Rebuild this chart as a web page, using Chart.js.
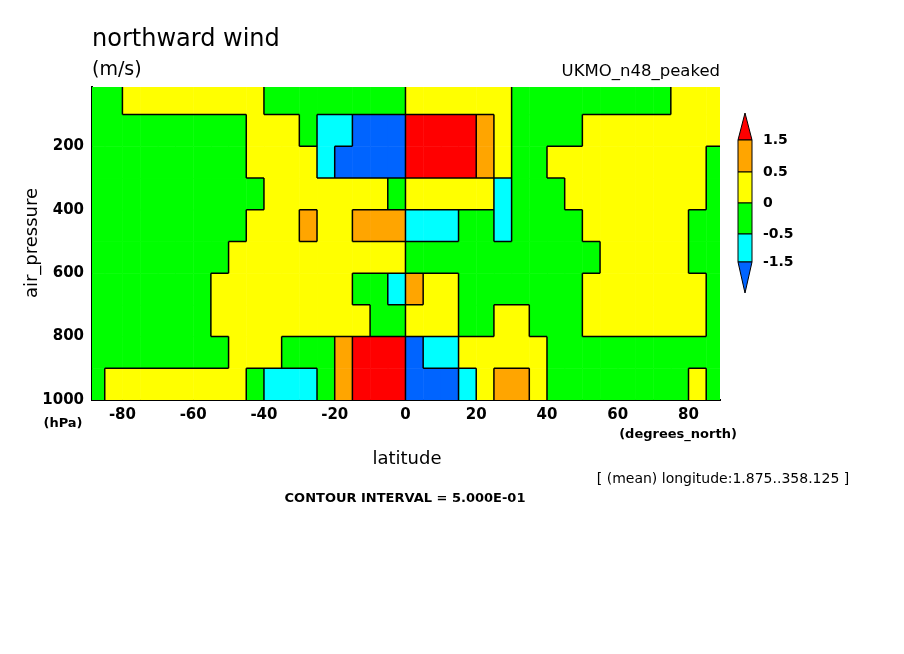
<!DOCTYPE html>
<html>
<head>
<meta charset="utf-8">
<script src="https://cdn.jsdelivr.net/npm/chart.js@4.4.0/dist/chart.umd.min.js"></script>
<style>
  body { margin: 0; background: #fff; }
  #wrap { width: 904px; height: 654px; }
</style>
</head>
<body>
<div id="wrap"><canvas id="c" width="904" height="654"></canvas></div>
<script>
// grid cell centres
const latitudes = [];
for (let l = -87.5; l <= 87.5; l += 5) latitudes.push(l);
const pressures = [50, 150, 250, 350, 450, 550, 650, 750, 850, 950];

// northward wind (m/s), read by eye, one row per pressure level, south -> north
const B = -2, c = -1, g = -0.25, y = 0.25, o = 1, r = 2;
const wind50  = [g,g,y,y,y,y,y,y,y,y,g,g,g,g,g,g,g,g, y,y,y,y,y,y,g,g,g,g,g,g,g,g,g,y,y,y];
const wind150 = [g,g,g,g,g,g,g,g,g,y,y,y,g,c,c,B,B,B, r,r,r,r,o,y,g,g,g,g,y,y,y,y,y,y,y,y];
const wind250 = [g,g,g,g,g,g,g,g,g,y,y,y,y,c,B,B,B,B, r,r,r,r,o,y,g,g,y,y,y,y,y,y,y,y,y,g];
const wind350 = [g,g,g,g,g,g,g,g,g,g,y,y,y,y,y,y,y,g, y,y,y,y,y,c,g,g,g,y,y,y,y,y,y,y,y,g];
const wind450 = [g,g,g,g,g,g,g,g,g,y,y,y,o,y,y,o,o,o, c,c,c,g,g,c,g,g,g,g,y,y,y,y,y,y,g,g];
const wind550 = [g,g,g,g,g,g,g,g,y,y,y,y,y,y,y,y,y,y, g,g,g,g,g,g,g,g,g,g,g,y,y,y,y,y,g,g];
const wind650 = [g,g,g,g,g,g,g,y,y,y,y,y,y,y,y,g,g,c, o,y,y,g,g,g,g,g,g,g,y,y,y,y,y,y,y,g];
const wind750 = [g,g,g,g,g,g,g,y,y,y,y,y,y,y,y,y,g,g, y,y,y,g,g,y,y,g,g,g,y,y,y,y,y,y,y,g];
const wind850 = [g,g,g,g,g,g,g,g,y,y,y,g,g,g,o,r,r,r, B,c,c,y,y,y,y,y,g,g,g,g,g,g,g,g,g,g];
const wind950 = [g,y,y,y,y,y,y,y,y,g,c,c,c,g,o,r,r,r, B,B,B,c,y,o,o,y,g,g,g,g,g,g,g,g,y,g];
const windRows = [wind50, wind150, wind250, wind350, wind450, wind550, wind650, wind750, wind850, wind950];

const levelEdges = [-1.5, -0.5, 0, 0.5, 1.5];
const levelColors = ["#0064ff", "#00ffff", "#00ff00", "#ffff00", "#ffa500", "#ff0000"];
const barLabels = ["1.5", "0.5", "0", "-0.5", "-1.5"];
const xTicks = [-80, -60, -40, -20, 0, 20, 40, 60, 80];
const yTicks = [200, 400, 600, 800, 1000];

function levelOf(v) {
  let i = 0;
  while (i < levelEdges.length && v > levelEdges[i]) i++;
  return i;
}

const cells = [];
windRows.forEach((row, j) => row.forEach((v, i) => cells.push({ x: latitudes[i], y: pressures[j], v: v, i: i, j: j })));

const cellPlugin = {
  id: "cells",
  beforeDatasetsDraw(chart) {
    const ctx = chart.ctx, xs = chart.scales.x, ys = chart.scales.y, a = chart.chartArea;
    ctx.save();
    ctx.beginPath();
    ctx.rect(a.left, a.top, a.right - a.left, a.bottom - a.top);
    ctx.clip();
    cells.forEach(p => {
      const x0 = xs.getPixelForValue(p.x - 2.5), x1 = xs.getPixelForValue(p.x + 2.5);
      const y0 = ys.getPixelForValue(p.y - 50), y1 = ys.getPixelForValue(p.y + 50);
      ctx.fillStyle = levelColors[levelOf(p.v)];
      ctx.fillRect(x0, y0, x1 - x0 + 0.5, y1 - y0 + 0.5);
    });
    // contour-like black edges where the level changes
    ctx.strokeStyle = "#000";
    ctx.lineWidth = 1.5;
    ctx.beginPath();
    cells.forEach(p => {
      const lv = levelOf(p.v);
      const x1 = xs.getPixelForValue(p.x + 2.5), x0 = xs.getPixelForValue(p.x - 2.5);
      const y1 = ys.getPixelForValue(p.y + 50), y0 = ys.getPixelForValue(p.y - 50);
      const right = windRows[p.j][p.i + 1];
      if (right !== undefined && levelOf(right) !== lv) { ctx.moveTo(x1, y0); ctx.lineTo(x1, y1); }
      const below = windRows[p.j + 1] ? windRows[p.j + 1][p.i] : undefined;
      if (below !== undefined && levelOf(below) !== lv) { ctx.moveTo(x0, y1); ctx.lineTo(x1, y1); }
    });
    ctx.stroke();
    ctx.restore();
  },
  afterDraw(chart) {
    const ctx = chart.ctx;
    ctx.save();
    ctx.fillStyle = "#000";
    ctx.textBaseline = "alphabetic";
    ctx.font = "24px 'DejaVu Sans'";
    ctx.textAlign = "left";
    ctx.fillText("northward wind", 92, 46);
    ctx.font = "19px 'DejaVu Sans'";
    ctx.fillText("(m/s)", 92, 75);
    ctx.font = "16.5px 'DejaVu Sans'";
    ctx.textAlign = "right";
    ctx.fillText("UKMO_n48_peaked", 720, 76);
    ctx.textAlign = "center";
    ctx.font = "18px 'DejaVu Sans'";
    ctx.fillText("latitude", 407, 464);
    ctx.save();
    ctx.translate(37, 243);
    ctx.rotate(-Math.PI / 2);
    ctx.fillText("air_pressure", 0, 0);
    ctx.restore();
    ctx.font = "bold 13px 'DejaVu Sans'";
    ctx.fillText("(hPa)", 63, 427);
    ctx.fillText("(degrees_north)", 678, 438);
    ctx.font = "14px 'DejaVu Sans'";
    ctx.fillText("[ (mean) longitude:1.875..358.125 ]", 723, 483);
    ctx.font = "bold 13px 'DejaVu Sans'";
    ctx.fillText("CONTOUR INTERVAL = 5.000E-01", 405, 502);

    // colour bar
    const bx = 738, bw = 14, edges = [113, 140, 172, 203, 234, 262, 293];
    const cols = levelColors.slice().reverse();
    for (let i = 0; i < 6; i++) {
      ctx.fillStyle = cols[i];
      ctx.beginPath();
      if (i === 0) { ctx.moveTo(bx + bw / 2, edges[0]); ctx.lineTo(bx + bw, edges[1]); ctx.lineTo(bx, edges[1]); }
      else if (i === 5) { ctx.moveTo(bx, edges[5]); ctx.lineTo(bx + bw, edges[5]); ctx.lineTo(bx + bw / 2, edges[6]); }
      else ctx.rect(bx, edges[i], bw, edges[i + 1] - edges[i]);
      ctx.closePath();
      ctx.fill();
      ctx.strokeStyle = "#000";
      ctx.lineWidth = 1;
      ctx.stroke();
    }
    ctx.fillStyle = "#000";
    ctx.textAlign = "left";
    ctx.textBaseline = "middle";
    ctx.font = "bold 14px 'DejaVu Sans'";
    barLabels.forEach((t, i) => ctx.fillText(t, 763, edges[i + 1]));
    ctx.restore();
  }
};

new Chart(document.getElementById("c"), {
  type: "scatter",
  data: { datasets: [{ data: cells, pointRadius: 0, showLine: false }] },
  plugins: [cellPlugin],
  options: {
    responsive: false,
    animation: false,
    layout: { padding: { left: 0, top: 87, right: 184, bottom: 230 } },
    plugins: { legend: { display: false }, tooltip: { enabled: false } },
    scales: {
      x: {
        type: "linear", min: -88.6, max: 88.9,
        afterBuildTicks: s => { s.ticks = xTicks.map(v => ({ value: v })); },
        afterFit: s => { s.height = 24; },
        grid: { display: false, drawTicks: false },
        border: { color: "#000", width: 2 },
        ticks: { color: "#000", padding: 6, font: { family: "DejaVu Sans", size: 15, weight: "bold" }, callback: v => v }
      },
      y: {
        type: "linear", reverse: true, min: 13, max: 1000,
        afterBuildTicks: s => { s.ticks = yTicks.map(v => ({ value: v })); },
        afterFit: s => { s.width = 92; },
        grid: { display: false, drawTicks: false },
        border: { color: "#000", width: 2 },
        ticks: { color: "#000", padding: 8, font: { family: "DejaVu Sans", size: 15, weight: "bold" }, callback: v => v }
      }
    }
  }
});
</script>
</body>
</html>
